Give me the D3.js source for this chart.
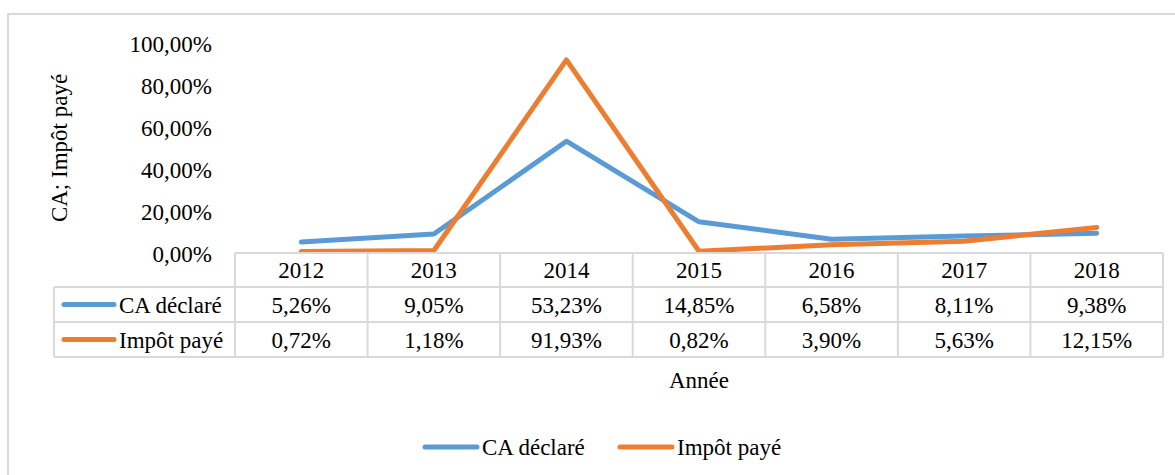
<!DOCTYPE html>
<html lang="fr">
<head>
    <meta charset="UTF-8">
    <title>CA déclaré et Impôt payé</title>
    <script src="https://d3js.org/d3.v7.min.js"></script>
</head>
<body style="margin:0;background:#fff">
    <svg id="chart" width="1175" height="475"></svg>
    <script>
        const years = ["2012", "2013", "2014", "2015", "2016", "2017", "2018"];
        const caDeclare = [5.26, 9.05, 53.23, 14.85, 6.58, 8.11, 9.38];
        const impotPaye = [0.72, 1.18, 91.93, 0.82, 3.90, 5.63, 12.15];
        const yTicks = [0, 20, 40, 60, 80, 100];

        const series = [
            { name: "CA déclaré", values: caDeclare, color: "#5b9bd5" },
            { name: "Impôt payé", values: impotPaye, color: "#ed7d31" }
        ];

        const FONT = "Liberation Serif, Tinos, Times New Roman, serif";
        const GRID = "#d9d9d9";

        const svg = d3.select("#chart");
        const fr = v => d3.format(".2f")(v).replace(".", ",") + "%";

        // every label is placed with a transform
        function txt(sel, px, py, anchor) {
            return sel.append("text")
                .attr("transform", `translate(${px},${py}) rotate(0)`)
                .attr("dy", "0.36em")
                .attr("text-anchor", anchor || "start")
                .attr("font-family", FONT)
                .attr("font-size", 23)
                .attr("fill", "#000");
        }

        // outer chart border (runs off the picture on right/bottom)
        svg.append("rect")
           .attr("x", 8).attr("y", 14).attr("width", 1200).attr("height", 500)
           .attr("fill", "none").attr("stroke", GRID).attr("stroke-width", 2);

        const x = d3.scaleBand().domain(years).range([235, 1163]);
        const y = d3.scaleLinear().domain([0, 100]).range([253, 43]);
        const cx = yr => x(yr) + x.bandwidth() / 2;

        // y tick labels
        yTicks.forEach(t => txt(svg, 212, y(t) + 1, "end").text(fr(t)));

        txt(svg, 0, 0, "middle")
           .attr("transform", "translate(67,148) rotate(-90)")
           .attr("dy", null)
           .text("CA; Impôt payé");

        // lines
        const line = d3.line()
            .x((d, i) => cx(years[i]))
            .y(d => y(d));

        svg.selectAll(".series")
           .data(series)
           .enter()
           .append("path")
           .attr("class", "series")
           .attr("fill", "none")
           .attr("stroke", d => d.color)
           .attr("stroke-width", 5)
           .attr("stroke-linejoin", "round")
           .attr("stroke-linecap", "round")
           .attr("d", d => line(d.values));

        // data table
        const rowTop = [253, 287, 322, 357];
        const labelLeft = 54;
        const g = svg.append("g");
        const rule = (x1, y1, x2, y2) => g.append("line")
            .attr("x1", x1).attr("y1", y1).attr("x2", x2).attr("y2", y2)
            .attr("stroke", GRID).attr("stroke-width", 2);

        rule(x.range()[0], rowTop[0], x.range()[1], rowTop[0]);
        rowTop.slice(1).forEach(t => rule(labelLeft, t, x.range()[1], t));
        rule(labelLeft, rowTop[1], labelLeft, rowTop[3]);
        years.forEach(yr => rule(x(yr), rowTop[0], x(yr), rowTop[3]));
        rule(x.range()[1], rowTop[0], x.range()[1], rowTop[3]);

        years.forEach(yr => txt(g, cx(yr), (rowTop[0] + rowTop[1]) / 2, "middle").text(yr));

        series.forEach((s, r) => {
            const cy = (rowTop[r + 1] + rowTop[r + 2]) / 2;
            g.append("line")
             .attr("x1", 64).attr("x2", 114).attr("y1", cy).attr("y2", cy)
             .attr("stroke", s.color).attr("stroke-width", 5).attr("stroke-linecap", "round");
            txt(g, 119, cy).text(s.name);
            s.values.forEach((v, i) => txt(g, cx(years[i]), cy, "middle").text(fr(v)));
        });

        // x axis title
        txt(svg, (x.range()[0] + x.range()[1]) / 2, 380, "middle").text("Année");

        // legend
        const legendX = [425, 620];
        series.forEach((s, i) => {
            svg.append("line")
              .attr("x1", legendX[i]).attr("x2", legendX[i] + 52).attr("y1", 447).attr("y2", 447)
              .attr("stroke", s.color).attr("stroke-width", 5).attr("stroke-linecap", "round");
            txt(svg, legendX[i] + 57, 447).text(s.name);
        });
    </script>
</body>
</html>
